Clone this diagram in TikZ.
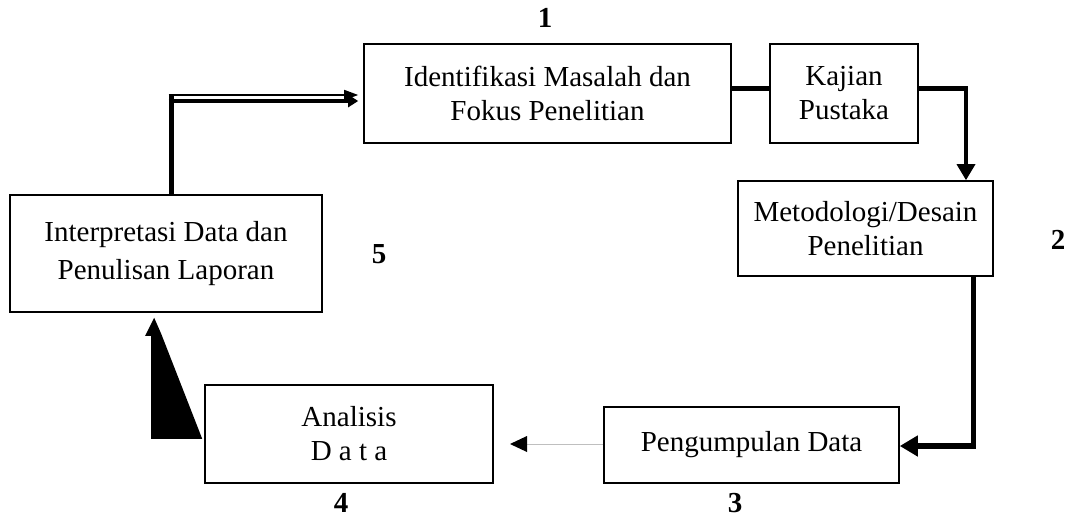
\documentclass[tikz,border=0pt]{standalone}
\usepackage{fontspec}
\setmainfont{Liberation Serif}
\usetikzlibrary{arrows.meta}
\begin{document}
\begin{tikzpicture}[x=1pt,y=-1pt,
  box/.style={draw,line width=1.6pt,align=center,inner sep=0pt,
    font=\fontsize{29}{34}\selectfont},
  num/.style={font=\fontsize{29}{34}\selectfont\bfseries,inner sep=0pt},
  thick line/.style={line width=5pt}]
\useasboundingbox (0,0) rectangle (1068,519);
\node[box,minimum width=367pt,minimum height=99pt] (b1) at (547.5,93.5) {Identifikasi Masalah dan\\Fokus Penelitian};
\node[box,minimum width=148pt,minimum height=99pt] (b2) at (844,93.5) {Kajian\\Pustaka};
\node[box,minimum width=255pt,minimum height=95pt] (b3) at (865.5,228.5) {Metodologi/Desain\\Penelitian};
\node[box,minimum width=295pt,minimum height=76pt] (b4) at (751.5,445) {Pengumpulan Data};
\node[box,minimum width=288pt,minimum height=98pt] (b5) at (349,434) {Analisis\\D a t a};
\node[box,minimum width=312pt,minimum height=117pt,font=\fontsize{29}{38}\selectfont] (b6) at (166,253.5) {Interpretasi Data dan\\Penulisan Laporan};
\node[num] (n1) at (545,18) {1};
\node[num] (n2) at (1058,240) {2};
\node[num] (n3) at (735,503) {3};
\node[num] (n4) at (341,503) {4};
\node[num] (n5) at (379,254) {5};
% 1 -> Kajian
\draw[thick line] (b1.east |- 0,88) -- (b2.west |- 0,88);
% Kajian -> Metodologi
\coordinate (k1) at (966,88);
\draw[thick line] (b2.east |- k1) -- ([xshift=2pt]k1);
\draw[line width=3.5pt,-{Triangle[length=16pt,width=18pt]}] (k1) -- (k1 |- b3.north);
% Metodologi -> Pengumpulan
\coordinate (m1) at (973,446);
\draw[line width=5pt] (m1 |- b3.south) -- ([yshift=-2.5pt]m1);
\draw[line width=6pt,-{Triangle[length=18pt,width=20pt]}] ([xshift=2.5pt]m1) -- (b4.east |- m1);
% Pengumpulan -> Analisis
\coordinate (p1) at (510,444);
\draw[gray!50,line width=0.8pt] (b4.west |- p1) -- (527,444);
\fill (p1) -- (527,436) -- (527,452) -- cycle;
% Analisis -> Interpretasi
\coordinate (t0) at (b5.south west);
\fill ([xshift=-53pt,yshift=45pt]t0) -- ([xshift=-53pt,yshift=148pt]t0) -- ([xshift=-59pt,yshift=148pt]t0)
  -- ([xshift=-50pt,yshift=166pt]t0) -- ([xshift=-43pt,yshift=150pt]t0) -- ([xshift=-2pt,yshift=45pt]t0) -- cycle;
% Interpretasi -> Identifikasi
\coordinate (c1) at (171,96);
\draw[line width=5pt] (c1 |- b6.north) -- (c1);
\draw[line width=1.5pt,-{Triangle[length=14pt,width=10pt]}] (168.5,95) -- ([xshift=-5pt]b1.west |- 0,95);
\draw[line width=4pt,-{Triangle[length=10pt,width=12pt]}] (168.5,101) -- ([xshift=-5pt]b1.west |- 0,101);
\end{tikzpicture}
\end{document}
